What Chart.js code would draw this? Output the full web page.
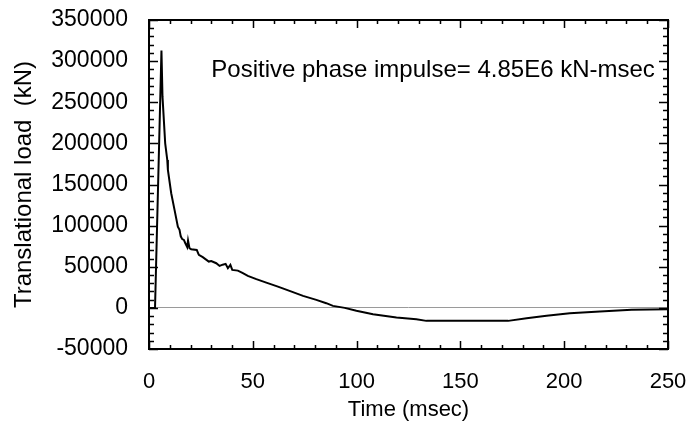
<!DOCTYPE html>
<html lang="en">
<head>
    <meta charset="UTF-8">
    <title>Translational load</title>
    <script src="https://cdn.jsdelivr.net/npm/chart.js"></script>
    <style>
        body { margin: 0; background: #fff; }
    </style>
</head>
<body>
    <canvas id="loadChart" width="689" height="421"></canvas>
    <script>
        // Time (msec) and translational load (kN)
        const timeMs = [0, 2.9, 6.0, 6.5, 7.8, 8.8, 9.1, 10.7, 12.3, 13.9, 14.7, 15.3, 16.0, 16.8, 17.5, 18.4, 18.8, 19.5,
            20.3, 23.0, 24.0, 25.9, 28.8, 30.0, 32.4, 34.0, 35.5, 36.9, 38.0, 39.2, 40.1, 42.8, 45.0, 47.6, 51.7,
            56.5, 62.1, 67.7, 74.2, 80.6, 85.4, 88.6, 94.3, 99.9, 107.9, 119.2, 128.8, 133.6, 173.0, 181.9,
            191.5, 202.7, 217.2, 232.5, 250];
        const loadKN = [0, 0, 313000, 256800, 200100, 179800, 167700, 139400, 119100, 98800, 95000, 87000, 83600, 82600,
            78600, 74000, 82000, 72500, 71300, 70500, 64400, 61600, 56300, 57000, 54300, 51000, 52500, 53500,
            48200, 52300, 46200, 45300, 42500, 38900, 34900, 30700, 25900, 20700, 14600, 9700, 5700, 2400, 0,
            -3600, -7700, -11800, -13700, -15800, -15800, -12500, -9700, -6400, -4500, -2400, -1600];

        const xRange = [0, 250];
        const yRange = [-50000, 350000];
        const xSteps = { major: 50, minor: 10 };
        const ySteps = { major: 50000, minor: 10000 };
        const impulseNote = 'Positive phase impulse= 4.85E6 kN-msec';

        const FONT = 'Liberation Sans, Arial, sans-serif';

        const points = timeMs.map((t, i) => ({ x: t, y: loadKN[i] }));

        // Box around the plot with inward ticks on all four sides, plus the note
        const frameTicks = {
            id: 'frameTicks',
            afterDatasetsDraw(chart) {
                const { ctx, chartArea: a, scales: { x, y } } = chart;
                ctx.save();
                ctx.strokeStyle = '#000';
                ctx.lineWidth = 1.5;
                ctx.beginPath();
                for (let v = xRange[0]; v <= xRange[1]; v += xSteps.minor) {
                    const px = Math.round(x.getPixelForValue(v)) + 0.5;
                    const len = v % xSteps.major === 0 ? 8 : 4;
                    ctx.moveTo(px, a.bottom); ctx.lineTo(px, a.bottom - len);
                    ctx.moveTo(px, a.top); ctx.lineTo(px, a.top + len);
                }
                for (let v = yRange[0]; v <= yRange[1]; v += ySteps.minor) {
                    const py = Math.round(y.getPixelForValue(v)) + 0.5;
                    const len = v % ySteps.major === 0 ? 9 : 5;
                    ctx.moveTo(a.left, py); ctx.lineTo(a.left + len, py);
                    ctx.moveTo(a.right, py); ctx.lineTo(a.right - len, py);
                }
                ctx.stroke();
                ctx.lineWidth = 2;
                ctx.strokeRect(a.left, a.top, a.right - a.left, a.bottom - a.top);

                ctx.fillStyle = '#000';
                ctx.font = '24px ' + FONT;
                ctx.textAlign = 'left';
                ctx.textBaseline = 'alphabetic';
                ctx.fillText(impulseNote, x.getPixelForValue(30), 77);
                ctx.restore();
            }
        };

        const config = {
            type: 'scatter',
            data: {
                datasets: [{
                    data: points,
                    showLine: true,
                    borderColor: '#000',
                    borderWidth: 2,
                    pointRadius: 0,
                    tension: 0
                }]
            },
            options: {
                responsive: false,
                animation: false,
                layout: { padding: { left: 0, right: 21, top: 20, bottom: 0 } },
                plugins: {
                    legend: { display: false },
                    tooltip: { enabled: false }
                },
                scales: {
                    x: {
                        type: 'linear',
                        min: xRange[0],
                        max: xRange[1],
                        afterFit: (scale) => {
                            scale.height = 72;
                            scale.paddingLeft = 0;
                            scale.paddingRight = 0;
                        },
                        ticks: {
                            stepSize: xSteps.major,
                            color: '#000',
                            padding: 12,
                            font: { family: FONT, size: 22 },
                            callback: (v) => String(v)
                        },
                        grid: { display: false },
                        border: { display: false },
                        title: {
                            display: true,
                            text: 'Time (msec)',
                            color: '#000',
                            font: { family: FONT, size: 22, lineHeight: 1 },
                            padding: { top: 0, bottom: 0 }
                        }
                    },
                    y: {
                        min: yRange[0],
                        max: yRange[1],
                        afterFit: (scale) => {
                            scale.width = 149;
                            scale.paddingTop = 0;
                            scale.paddingBottom = 0;
                        },
                        ticks: {
                            stepSize: ySteps.major,
                            color: '#000',
                            padding: 21,
                            font: { family: FONT, size: 23 },
                            callback: (v) => String(v)
                        },
                        grid: {
                            drawTicks: false,
                            lineWidth: 1,
                            color: (c) => c.tick && c.tick.value === 0 ? '#9a9a9a' : 'rgba(0,0,0,0)'
                        },
                        border: { display: false },
                        title: {
                            display: true,
                            text: 'Translational load  (kN)',
                            color: '#000',
                            font: { family: FONT, size: 24, lineHeight: 1 },
                            padding: { top: 12, bottom: 0 }
                        }
                    }
                }
            },
            plugins: [frameTicks]
        };

        const loadChart = new Chart(document.getElementById('loadChart'), config);
    </script>
</body>
</html>
